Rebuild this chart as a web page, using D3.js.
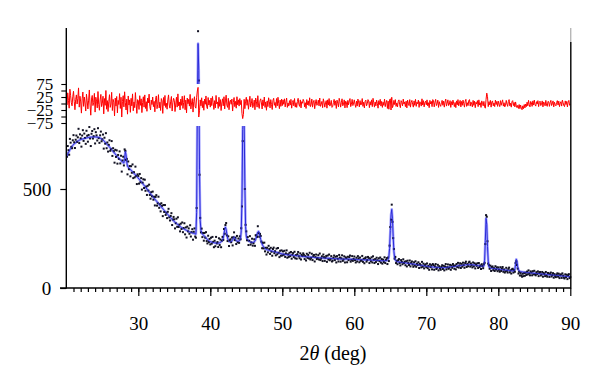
<!DOCTYPE html>
<html><head><meta charset="utf-8">
<script src="https://cdn.jsdelivr.net/npm/d3@7"></script>
<style>html,body{margin:0;padding:0;background:#fff}</style>
</head><body>
<svg id="c" width="600" height="383"></svg>
<script>
const scanStart = 20, scanStep = 0.1;
// calculated profile (counts), one row per degree of 2theta, 0.1 deg steps
const calcCounts = [
660,668,676,684,691,698,704,710,715,720,
725,728,731,734,737,740,742,744,746,748,
750,751,752,753,754,755,756,757,758,759,
760,760,761,761,762,762,762,763,763,763,
763,763,762,762,761,760,759,757,755,753,
750,747,744,740,736,732,728,724,720,716,
712,708,703,699,694,690,686,681,677,672,
668,664,660,656,652,648,644,640,636,633,
632,655,690,672,635,615,610,606,602,598,
595,591,587,583,579,575,571,567,563,559,
555,550,546,541,537,532,528,523,519,514,
510,505,500,495,490,486,481,476,471,467,
462,458,453,449,444,440,436,431,427,422,
418,414,409,405,401,396,392,388,384,379,
375,371,367,363,359,355,351,347,343,339,
335,332,329,326,323,320,317,314,311,308,
305,303,301,299,297,295,293,291,289,287,
285,284,282,281,280,278,277,276,275,273,
272,380,900,1235,1100,600,340,290,278,273,
269,265,261,257,253,249,245,241,238,236,
234,233,232,231,230,229,228,228,227,227,
226,226,227,228,230,233,237,240,252,272,
295,308,296,272,252,241,236,234,233,234,
238,244,252,258,254,246,240,237,236,236,
238,242,250,290,450,800,870,850,520,310,
262,248,242,239,236,234,232,231,230,230,
231,233,237,245,258,272,282,286,278,262,
245,232,222,214,208,204,200,197,195,193,
192,191,190,189,188,187,186,185,184,183,
182,181,180,179,178,177,176,175,174,173,
172,171,171,170,170,169,169,168,168,167,
167,167,166,166,165,165,165,164,164,163,
163,163,162,162,161,161,161,160,160,159,
159,159,158,158,158,157,157,157,156,156,
156,156,155,155,155,154,154,154,153,153,
153,153,153,152,152,152,152,151,151,151,
151,151,150,150,150,150,150,149,149,149,
149,149,148,148,148,148,148,147,147,147,
147,147,147,147,146,146,146,146,146,146,
146,146,146,146,145,145,145,145,145,145,
145,145,144,144,144,144,144,143,143,143,
143,143,143,143,142,142,142,142,142,142,
142,142,141,141,141,141,140,140,140,140,
140,140,139,139,139,139,138,138,138,138,
138,138,138,138,138,139,140,145,158,200,
290,370,397,350,260,185,152,142,137,135,
133,132,132,131,130,130,129,129,128,128,
127,127,126,126,125,125,124,124,123,123,
122,121,121,120,120,119,118,118,117,117,
116,115,115,114,114,113,112,112,111,111,
110,110,109,109,108,108,107,107,106,106,
106,105,105,105,104,104,104,104,103,103,
103,103,103,103,103,103,103,104,104,104,
105,105,106,106,107,107,108,108,109,109,
110,110,111,111,112,112,113,113,114,114,
115,115,116,116,117,117,117,118,118,118,
118,118,118,117,117,117,116,116,115,115,
114,114,113,112,112,111,111,110,110,109,
112,140,240,352,320,210,135,108,102,101,
100,100,99,99,98,98,97,97,96,96,
95,95,94,94,93,93,92,92,91,91,
90,90,89,89,89,88,88,88,87,87,
86,86,87,95,120,145,132,105,92,86,
83,82,82,81,81,80,80,79,79,78,
78,78,77,77,77,76,76,75,75,75,
74,74,74,73,73,73,72,72,72,71,
71,71,70,70,70,69,69,69,68,68,
67,67,67,66,66,66,65,65,65,64,
64,64,63,63,63,62,62,62,61,61,
60,60,60,59,59,59,58,58,58,57,
57];
// difference (observed - calculated), same grid
const diffCounts = [
22,-5,41,12,-18,55,30,3,-9,26,
47,8,-24,15,33,-2,19,60,-14,28,
6,-37,18,44,-11,25,2,-29,36,10,
-21,13,52,-6,-45,17,31,-8,4,39,
-33,24,9,-17,46,-3,-26,14,35,-12,
1,28,-40,19,-7,50,-22,11,-31,7,
34,-15,-2,43,-27,16,5,-48,21,-10,
27,-36,12,-4,38,-19,24,-52,8,30,
-13,45,3,-25,17,-41,29,-6,14,-34,
20,-9,37,-28,6,-16,42,-1,-38,15,
11,-23,30,-7,18,-35,4,26,-14,33,
-19,7,-30,21,2,36,-11,-25,13,-4,
25,-12,8,-32,16,29,-20,-3,34,-17,
5,-27,19,10,-38,23,-8,31,-15,1,
-22,14,33,-6,-18,9,27,-29,3,20,
12,-31,-2,24,-14,37,-9,6,-25,17,
-7,28,-19,4,30,-24,13,-36,21,-1,
16,-10,35,-21,2,19,-33,8,26,-13,
-18,24,48,62,-52,-28,14,-9,22,-16,
9,-26,17,-3,29,-12,-20,23,-6,12,
-14,21,-8,27,3,-23,11,-17,31,-2,
6,-19,24,-11,15,-27,2,18,-9,26,
-21,10,32,-6,-15,20,-24,7,13,-3,
17,-29,4,23,-12,8,-18,26,-5,14,
-10,19,-4,12,-38,-58,-42,16,-20,9,
24,-7,15,-22,3,28,-13,-1,19,-16,
-5,13,-24,21,8,-14,30,-9,-19,11,
18,2,-21,14,-8,25,-15,6,-26,10,
-12,22,7,-17,15,-4,-23,12,20,-7,
4,-16,19,-9,24,1,-20,13,-11,17,
-8,14,-3,18,-13,6,21,-15,2,-10,
11,-6,16,-18,4,12,-9,19,-14,3,
-15,8,20,-2,-11,14,-17,7,1,16,
9,-13,3,-19,15,-5,10,-8,22,-12,
-4,17,-14,6,12,-20,2,15,-7,-1,
13,-9,21,-11,-3,8,-16,18,5,-14,
2,11,-18,14,-6,19,-10,-2,12,-15,
-11,4,16,-7,10,-19,13,1,-13,20,
7,-14,3,18,-9,-2,14,-17,9,5,
-16,12,-5,10,19,-12,-3,16,-8,2,
14,-4,-15,9,-10,17,6,-13,11,-6,
-3,19,-11,5,-17,8,13,-9,-1,15,
10,-16,7,-6,14,-12,20,3,-14,6,
-9,13,1,-18,11,-4,16,-10,8,-15,
5,-7,17,-12,3,12,-19,9,-22,14,
18,-25,24,-16,-8,12,-4,15,-11,2,
-13,8,14,-5,-16,11,3,-9,17,-2,
6,-12,9,-17,13,1,-8,15,-14,4,
12,-3,-14,10,-7,16,-11,5,-1,13,
-15,7,2,-10,18,-6,11,-13,4,9,
-5,14,-9,3,-16,12,-2,8,-12,15,
10,-13,5,16,-8,-1,13,-15,7,-4,
-11,3,12,-7,9,-14,6,17,-10,1,
14,-8,-3,11,-15,7,-6,13,2,-12,
4,-16,10,-5,15,-9,1,12,-13,8,
-7,13,-1,-14,9,16,-11,3,-8,11,
15,-10,6,-3,-13,12,-7,9,-16,5,
-2,11,-12,14,-6,3,-15,10,1,-9,
8,-13,-18,16,40,26,-12,7,-5,12,
-14,6,10,-9,2,-12,13,-4,8,-11,
9,-3,-12,11,-7,5,14,-10,3,-13,
-6,12,-2,-11,8,15,-9,1,-14,7,
11,-8,4,-13,6,-10,-16,-7,-19,-4,
-20,-6,-18,-24,-9,-20,-4,-17,-2,-12,
5,-9,12,-4,-13,8,2,-11,10,-6,
13,-5,-10,7,-2,11,-12,4,9,-8,
-3,10,-13,6,1,-9,12,-6,-11,8,
7,-11,3,12,-8,-1,10,-13,5,-4,
-9,4,11,-6,9,-12,2,7,-10,13,
3,-8,-12,10,-4,8,-13,6,12,-7,
-2];
const xTickLabels = [30,40,50,60,70,80,90];
const yTickLabels = [0,500];
const diffTickLabels = [75,25,-25,-75];
const diffTicks = [75,50,25,0,-25,-50,-75];

const svg = d3.select('#c');
const x = d3.scaleLinear().domain([20,90]).range([66.3,570.3]);
const y = d3.scaleLinear().domain([0,500]).range([288,189]);
const yd = d3.scaleLinear().domain([-75,75]).range([123,84]);

const angles = calcCounts.map((_, i) => scanStart + i*scanStep);
const obs = calcCounts.map((c, i) => c + (diffCounts[i] ?? 0));

const defs = svg.append('defs');
const cp = defs.append('clipPath').attr('id','mainClip');
cp.append('rect').attr('x',66).attr('y',28).attr('width',506).attr('height',56);
cp.append('rect').attr('x',66).attr('y',126).attr('width',506).attr('height',163);

const main = svg.append('g').attr('clip-path','url(#mainClip)');
const calcLine = d3.line().x((d,i)=>x(angles[i])).y(d=>y(d));
main.append('path').attr('d',calcLine(calcCounts)).attr('fill','none')
  .attr('stroke','#a8a8ff').attr('stroke-width',2.6).attr('stroke-linejoin','round');
main.append('g').selectAll('rect').data(obs).join('rect')
  .attr('x',(d,i)=>x(angles[i])-1).attr('y',d=>y(d)-1)
  .attr('width',2).attr('height',2).attr('fill','#111122');
main.append('path').attr('d',calcLine(calcCounts)).attr('fill','none')
  .attr('stroke','#2a2ad8').attr('stroke-width',1).attr('stroke-linejoin','round');

const diffLine = d3.line().x((d,i)=>x(angles[i])).y(d=>yd(d));
svg.append('path').attr('d',diffLine(diffCounts)).attr('fill','none')
  .attr('stroke','#ff0000').attr('stroke-width',1);

// axes
const font = "'Liberation Serif','Times New Roman',serif";
const gxMinor = svg.append('g').attr('transform','translate(0,288)')
  .call(d3.axisBottom(x).tickValues(d3.range(21,90)).tickSize(4).tickFormat(''));
const gx = svg.append('g').attr('transform','translate(0,288)')
  .call(d3.axisBottom(x).tickValues(xTickLabels).tickSize(8).tickPadding(21).tickFormat(d3.format('d')));
[gxMinor, gx].forEach(g=>{ g.select('.domain').remove(); g.selectAll('line').attr('stroke','#000').attr('stroke-width',1.2); });
gx.selectAll('text').attr('font-family',font).attr('font-size',19).attr('fill','#000');

const gy = svg.append('g').attr('transform','translate(66.3,0)')
  .call(d3.axisLeft(y).tickValues(yTickLabels).tickSize(6).tickPadding(9));
gy.select('.domain').remove();
gy.selectAll('line').attr('stroke','#000').attr('stroke-width',1.2);
gy.selectAll('text').attr('font-family',font).attr('font-size',19).attr('fill','#000');

const fmt = d3.format('d');
const gd = svg.append('g').attr('transform','translate(66.3,0)')
  .call(d3.axisLeft(yd).tickValues(diffTicks).tickSize(5).tickPadding(8)
    .tickFormat(d => diffTickLabels.includes(d) ? fmt(d) : ''));
gd.select('.domain').remove();
gd.selectAll('line').attr('stroke','#000').attr('stroke-width',1.1);
gd.selectAll('text').attr('font-family',font).attr('font-size',17).attr('fill','#000');

// frame lines
svg.append('line').attr('x1',66.3).attr('x2',66.3).attr('y1',28).attr('y2',288.6).attr('stroke','#000').attr('stroke-width',1.4);
svg.append('line').attr('x1',60).attr('x2',571).attr('y1',288).attr('y2',288).attr('stroke','#000').attr('stroke-width',1.4);
svg.append('line').attr('x1',570.8).attr('x2',570.8).attr('y1',42).attr('y2',288.6).attr('stroke','#000').attr('stroke-width',1.4);
svg.append('line').attr('x1',570.8).attr('x2',570.8).attr('y1',28).attr('y2',42).attr('stroke','#999').attr('stroke-width',1);

// title
const t = svg.append('text').attr('x',333).attr('y',360).attr('text-anchor','middle')
  .attr('font-family',font).attr('font-size',20).attr('fill','#000');
t.append('tspan').text('2');
t.append('tspan').attr('font-style','italic').text('θ');
t.append('tspan').text(' (deg)');
</script>
</body></html>
